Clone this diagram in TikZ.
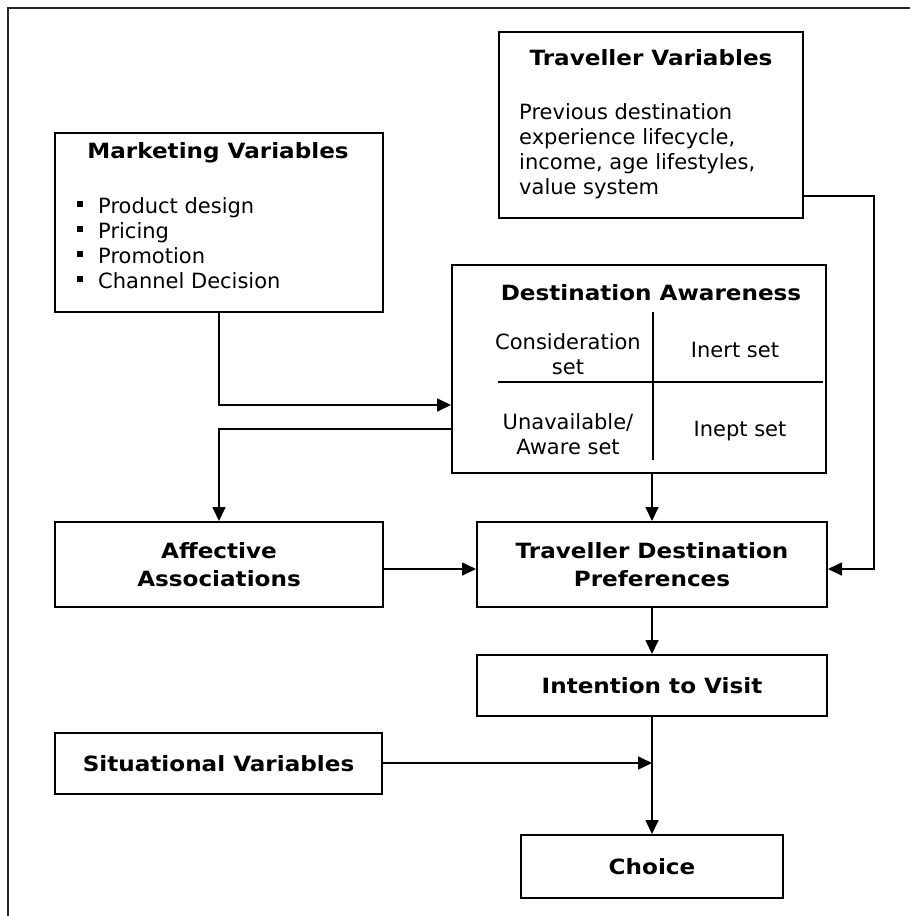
\documentclass[tikz,border=0pt]{standalone}
\usepackage{fontspec}
\setmainfont{DejaVu Sans}[BoldFeatures={FakeStretch=1.1}]
\usetikzlibrary{arrows.meta}

\begin{document}
\begin{tikzpicture}[x=1pt,y=-1pt,>={Triangle[length=14pt,width=13pt]},
        font=\fontsize{21}{25}\selectfont,
        box/.style={draw,line width=2pt,inner sep=0pt,align=center,font=\bfseries\fontsize{21}{28}\selectfont},
        link/.style={->,line width=1.7pt},
        divider/.style={line width=1.7pt},
        title/.style={anchor=base,font=\bfseries\fontsize{21}{25}\selectfont},
        celltext/.style={anchor=base,align=center},
        body/.style={anchor=base west,align=left}]
        \useasboundingbox (0,0) rectangle (910,916);

        % the frame round the figure
        \draw[line width=2.2pt,black!85] (8,916) -- (8,8) -- (910,8);

        % marketing variables
        \node[box,minimum width=328pt,minimum height=179pt] (mkt) at (219,222.5) {};
        \node[title] (mkttitle) at (218,158) {Marketing Variables};
        \foreach \t [count=\i] in {Product design,Pricing,Promotion,Channel Decision} {
                \node[body,inner sep=0pt] (item\i) at (98,188+25*\i) {\t};
                \fill (77,188+25*\i-12) rectangle (83,188+25*\i-6);
        }

        % traveller variables
        \node[box,minimum width=304pt,minimum height=186pt] (trv) at (651,125) {};
        \node[title] (trvtitle) at (651,65) {Traveller Variables};
        % the base of a text on several lines is its last line
        \node[body,inner sep=0pt] (trvbody) at (519,194) {Previous destination\\experience lifecycle,\\income, age lifestyles,\\value system};

        % destination awareness with its four sets
        \node[box,minimum width=374pt,minimum height=208pt] (awr) at (639,369) {};
        \node[title] (awrtitle) at (651,300) {Destination Awareness};
        \draw[divider] (653,312) -- (653,460);
        \draw[divider] (498,382) -- (823,382);
        \node[celltext] (consid) at (568,374) {Consideration\\set};
        \node[celltext] (inert) at (735,357) {Inert set};
        \node[celltext] (unavail) at (568,454) {Unavailable/\\Aware set};
        \node[celltext] (inept) at (740,436) {Inept set};

        % the lower boxes
        \node[box,minimum width=328pt,minimum height=85pt] (aff) at (219,564.5) {Affective\\Associations};
        \node[box,minimum width=350pt,minimum height=85pt] (pref) at (652,564.5) {Traveller Destination\\Preferences};
        \node[box,minimum width=350pt,minimum height=61pt] (intn) at (652,685.5) {Intention to Visit};
        \node[box,minimum width=327pt,minimum height=61pt] (sit) at (218.5,763.5) {Situational Variables};
        \node[box,minimum width=262pt,minimum height=63pt] (cho) at (652,866.5) {Choice};

        % connectors
        \draw[link] (mkt.south) |- ([yshift=-36pt]awr.west);
        \draw[link] ([yshift=-60pt]awr.west) -| (aff.north);
        \draw[link] (awr.south -| pref.north) -- (pref.north);
        \draw[link] ([yshift=-4.5pt]aff.east) -- ([yshift=-4.5pt]pref.west);
        \draw[link] ([yshift=-71pt]trv.east) -- ++(70,0) |- ([yshift=-4.5pt]pref.east);
        \draw[link] (pref.south) -- (intn.north);
        \coordinate (join) at ([yshift=0.5pt]intn.south |- sit.east);
        \draw[link] ([yshift=0.5pt]sit.east) -- (join);
        \draw[link] (intn.south) -- (cho.north);
\end{tikzpicture}
\end{document}
